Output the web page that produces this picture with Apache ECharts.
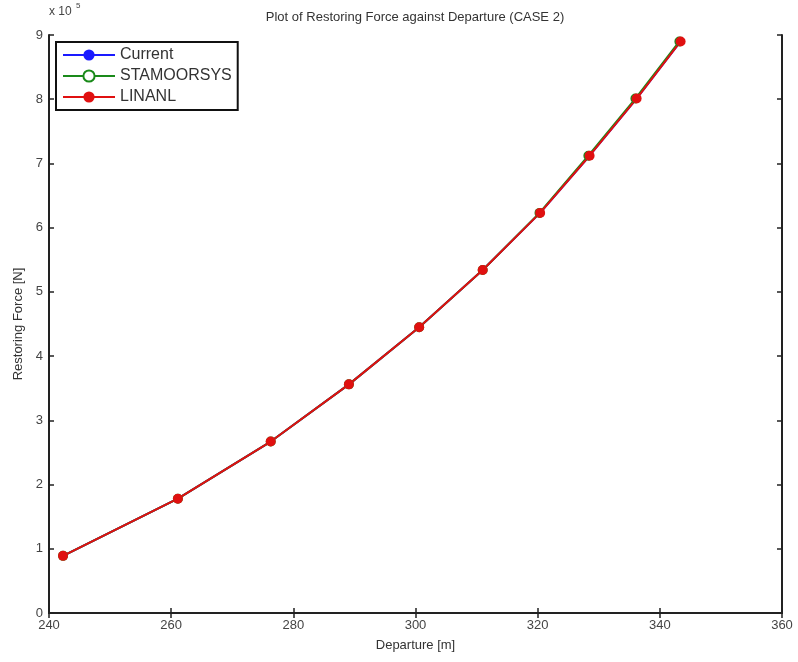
<!DOCTYPE html>
<html>
<head>
<meta charset="utf-8">
<script src="https://cdn.jsdelivr.net/npm/echarts@6/dist/echarts.min.js"></script>
<style>
html, body { margin:0; padding:0; background:#fff; }
#main { width:798px; height:662px; }
</style>
</head>
<body>
<div id="main"></div>
<script>
// departure [m] and restoring force [x1e5 N]
var departure = [242.3, 261.1, 276.3, 289.1, 300.6, 311.0, 320.4, 328.5, 336.2, 343.4];
var forceCurrent = [0.89, 1.78, 2.67, 3.56, 4.45, 5.34, 6.23, 7.12, 8.01, 8.90];
var departureStamoor = [242.3, 261.1, 276.3, 289.1, 300.6, 311.0, 320.3, 328.3, 336.0, 343.2];
var forceStamoor = [0.89, 1.78, 2.67, 3.56, 4.45, 5.34, 6.23, 7.12, 8.01, 8.90];
var forceLinanl = [0.89, 1.78, 2.67, 3.56, 4.45, 5.34, 6.23, 7.12, 8.01, 8.90];
var seriesNames = ['Current', 'STAMOORSYS', 'LINANL'];

function pairs(xs, ys) {
    var out = [];
    for (var i = 0; i < xs.length; i++) {
        out.push([xs[i], ys[i]]);
    }
    return out;
}

var myChart = echarts.init(document.getElementById('main'));
var font = 'Liberation Sans, Arial, sans-serif';
var axisCommon = {
    type: 'value',
    axisLine: { show: true, lineStyle: { color: '#222', width: 2 } },
    axisTick: { show: true, inside: true, length: 5, lineStyle: { color: '#222', width: 1.5 } },
    splitLine: { show: false },
    axisLabel: { color: '#444', fontSize: 13, fontFamily: font }
};

var option = {
    backgroundColor: '#fff',
    animation: false,
    title: {
        text: 'Plot of Restoring Force against Departure (CASE 2)',
        left: 410, top: 6, textAlign: 'center',
        textStyle: { fontSize: 13, fontWeight: 'normal', color: '#333', fontFamily: font }
    },
    grid: { left: 49, right: 16, top: 35, bottom: 49 },
    legend: {
        data: seriesNames,
        orient: 'vertical',
        left: 56, top: 42,
        padding: [5, 6, 5, 6],
        itemGap: 5,
        itemWidth: 52, itemHeight: 14,
        backgroundColor: '#fff',
        borderColor: '#111', borderWidth: 2,
        textStyle: { fontSize: 16, color: '#333', fontFamily: font }
    },
    xAxis: [
        Object.assign({}, axisCommon, {
            position: 'bottom', min: 240, max: 360, interval: 20,
            name: 'Departure [m]', nameLocation: 'middle', nameGap: 26,
            nameTextStyle: { fontSize: 13, color: '#333', fontFamily: font },
            axisLabel: { color: '#444', fontSize: 13, fontFamily: font, margin: 6 }
        }),
        Object.assign({}, axisCommon, {
            position: 'top', min: 240, max: 360, interval: 20,
            axisLabel: { show: false }
        })
    ],
    yAxis: [
        Object.assign({}, axisCommon, {
            position: 'left', min: 0, max: 9, interval: 1,
            name: 'Restoring Force [N]', nameLocation: 'middle', nameGap: 24,
            nameTextStyle: { fontSize: 13, color: '#333', fontFamily: font },
            axisLabel: { color: '#444', fontSize: 13, fontFamily: font, margin: 6 }
        }),
        Object.assign({}, axisCommon, {
            position: 'right', min: 0, max: 9, interval: 1,
            axisLabel: { show: false }
        })
    ],
    graphic: [{
        type: 'text', left: 49, top: 6,
        style: { text: 'x 10', fill: '#444', font: '12px ' + font }
    }, {
        type: 'text', left: 76, top: 2,
        style: { text: '5', fill: '#444', font: '8px ' + font }
    }],
    series: [{
        name: seriesNames[0], type: 'line',
        data: pairs(departure, forceCurrent),
        symbol: 'circle', symbolSize: 7,
        itemStyle: { color: '#1a1aff' },
        lineStyle: { color: '#1a1aff', width: 2 }
    }, {
        name: seriesNames[1], type: 'line',
        data: pairs(departureStamoor, forceStamoor),
        symbol: 'emptyCircle', symbolSize: 8,
        itemStyle: { color: '#1a8a1a', borderWidth: 2 },
        lineStyle: { color: '#1a8a1a', width: 2 }
    }, {
        name: seriesNames[2], type: 'line',
        data: pairs(departure, forceLinanl),
        symbol: 'circle', symbolSize: 10,
        itemStyle: { color: '#e01010' },
        lineStyle: { color: '#e01010', width: 2 }
    }]
};
myChart.setOption(option);
</script>
</body>
</html>
